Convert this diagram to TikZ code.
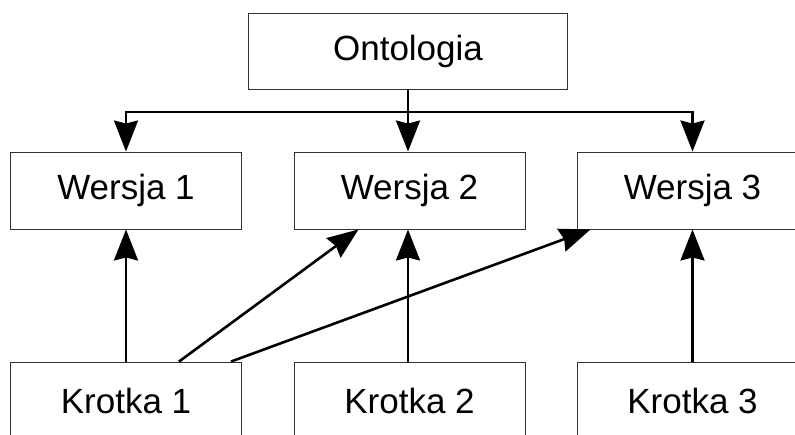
\documentclass[tikz,border=0pt]{standalone}
\usepackage{fontspec}
\setmainfont{Liberation Sans}
\usetikzlibrary{arrows.meta}

\begin{document}
\begin{tikzpicture}[x=1pt,y=-1pt,
		box/.style={draw=black!80, line width=0.9pt, minimum width=231pt, minimum height=77pt, inner sep=0pt, font=\fontsize{35}{42}\selectfont},
		link/.style={line width=2.6pt, -{Stealth[length=31pt, width=24pt, inset=3pt]}}]
		\useasboundingbox (0,0) rectangle (795,434);
		\clip (0,0) rectangle (795,434);
		% top
		\node[box, minimum width=319pt, minimum height=76pt] (onto) at (408,51) {Ontologia};
		\node[box] (w1) at (126,190.5) {Wersja 1};
		\node[box] (w2) at (409.5,190.5) {Wersja 2};
		\node[box] (w3) at (692.5,190.5) {Wersja 3};
		\node[box] (k1) at (126,400.5) {Krotka 1};
		\node[box] (k2) at (409.5,400.5) {Krotka 2};
		\node[box] (k3) at (692.5,400.5) {Krotka 3};
		\coordinate (split) at (onto.south |- 0,112);
		\draw [line width=2.6pt] (onto.south) -- (split);
		\draw [link] (split) -| (w1.north);
		\draw [link] (split) -- (split |- w2.north);
		\draw [link] (split) -| (w3.north);
		\draw [link] (k1.north) -- (w1.south);
		\draw [link] ([xshift=53pt]k1.north) -- ([xshift=-51pt]w2.south);
		\draw [link] ([xshift=105pt]k1.north) -- ([xshift=-102pt]w3.south);
		\draw [link] ([xshift=-1.5pt]k2.north) -- ([xshift=-1.5pt]w2.south);
		\draw [link] (k3.north) -- (w3.south);
	\end{tikzpicture}
\end{document}
